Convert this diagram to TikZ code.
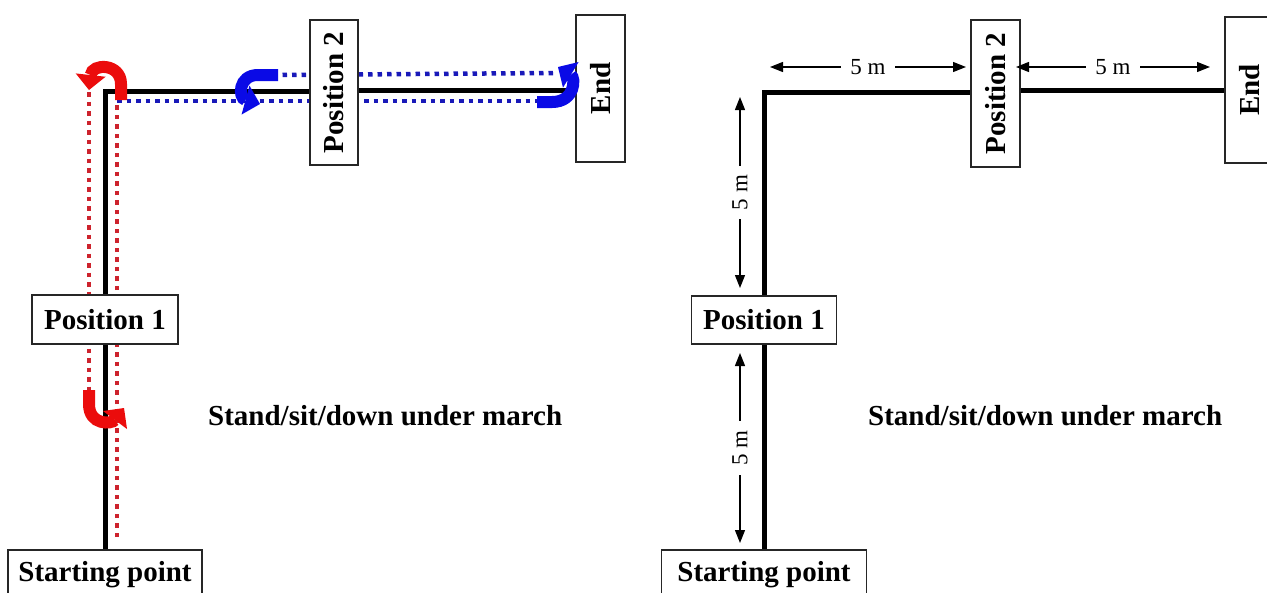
\documentclass[tikz,border=0pt]{standalone}
\usepackage{fontspec}
\setmainfont{Liberation Serif}
\usepackage{graphicx}
\usetikzlibrary{arrows.meta,backgrounds}

\definecolor{markred}{RGB}{235,12,12}
\definecolor{markblue}{RGB}{10,10,230}
\definecolor{dotred}{RGB}{205,35,45}
\definecolor{dotblue}{RGB}{25,25,185}

\tikzset{
  placebox/.style={draw=black!85, line width=1.4pt, fill=white, inner sep=0pt,
    font=\fontsize{29}{34}\selectfont\bfseries},
  track/.style={line width=5pt},
  reddots/.style={dotred, line width=4.5pt, dash pattern=on 4.5pt off 5pt},
  bluedots/.style={dotblue, line width=4.5pt, dash pattern=on 4.5pt off 5pt},
  turnred/.style={markred, line width=12pt, -{Triangle[width=30pt,length=15pt,line width=0pt]}},
  turnblue/.style={markblue, line width=12pt, -{Triangle[width=30pt,length=15pt,line width=0pt]}},
  dimarrow/.style={line width=1.3pt, {Triangle[width=10pt,length=13pt]}-{Triangle[width=10pt,length=13pt]}},
  dimlabel/.style={fill=white, inner xsep=9pt, inner ysep=1pt, font=\fontsize{23}{27}\selectfont},
  tasklabel/.style={anchor=base west, inner sep=0pt, font=\fontsize{29}{34}\selectfont\bfseries}
}

\begin{document}
\begin{tikzpicture}[x=1pt,y=-1pt]
  \useasboundingbox (0,0) rectangle (1267,592);

  % left panel: places on the course
  \node [placebox, minimum width=194pt, minimum height=49pt](startL) at (105,574.5) {Starting point};
  \node [placebox, minimum width=146pt, minimum height=49pt](posL1) at (105,319.5) {Position 1};
  \node [placebox, minimum width=48pt, minimum height=145pt](posL2) at (334,92.5) {\rotatebox{90}{Position 2}};
  \node [placebox, minimum width=49pt, minimum height=147pt](endL) at (600.5,88.5) {\rotatebox{90}{End}};
  \coordinate (cornerL) at (105,91);

  \draw [track] (startL) -- (posL1);
  \draw [track] (posL1) -- (cornerL) -- (cornerL -| posL2.west);
  \draw [track] (posL2.east |- 0,90) -- (endL.west |- 0,90);

  % walked route, kept behind the boxes
  \coordinate (redIn) at (117,537);
  \coordinate (redTurn) at (117,101);
  \coordinate (blueEnd) at (537,101);
  \coordinate (redBack) at (89,92);
  \coordinate (redStop) at (89,390);
  \coordinate (blueBack) at (553,73);
  \coordinate (blueStop) at (278,75);
  \begin{pgfonlayer}{background}
    \draw [reddots] (redIn) -- (redTurn);
    \draw [bluedots] (redTurn) -- (blueEnd);
    \draw [reddots] (redBack) -- (redStop);
    \draw [bluedots] (blueBack) -- (blueStop);
  \end{pgfonlayer}

  % turning arrows
  \draw [turnred] (redStop) -- (89,404) .. controls (89,426) and (112,424) .. (124,408);
  \draw [turnred] (121,100) -- (121,84) .. controls (121,63) and (92,63) .. (89,90);
  \draw [turnblue] (blueStop) -- (258,75) .. controls (238,75) and (238,98) .. (260,104);
  \draw [turnblue] (blueEnd |- 0,102) -- (552,102) .. controls (575,102) and (576,78) .. (558,67);

  \node [tasklabel](taskL) at (208,425) {Stand/sit/down under march};

  % right panel: same course with distances
  \node [placebox, minimum width=205pt, minimum height=49pt](startR) at (764,574.5) {Starting point};
  \node [placebox, minimum width=145pt, minimum height=48pt](posR1) at (764,320) {Position 1};
  \node [placebox, minimum width=49pt, minimum height=147pt](posR2) at (995.5,93.5) {\rotatebox{90}{Position 2}};
  \node [placebox, minimum width=50pt, minimum height=146pt](endR) at (1250,90) {\rotatebox{90}{End}};
  \coordinate (cornerR) at (764,92);

  \draw [track] (startR) -- (posR1);
  \draw [track] (posR1) -- (cornerR) -- (cornerR -| posR2.west);
  \draw [track] (posR2.east |- 0,90) -- (endR.west |- 0,90);

  % distances
  \coordinate (dimA1) at (770,67);
  \coordinate (dimA2) at (966,67);
  \coordinate (dimB1) at (1016,67);
  \coordinate (dimB2) at (1210,67);
  \coordinate (dimC1) at (740,97);
  \coordinate (dimC2) at (740,288);
  \coordinate (dimD1) at (740,353);
  \coordinate (dimD2) at (740,543);
  \draw [dimarrow] (dimA1) -- node [dimlabel]{5 m} (dimA2);
  \draw [dimarrow] (dimB1) -- node [dimlabel]{5 m} (dimB2);
  \draw [dimarrow] (dimC1) -- node [dimlabel, rotate=90]{5 m} (dimC2);
  \draw [dimarrow] (dimD1) -- node [dimlabel, rotate=90]{5 m} (dimD2);

  \node [tasklabel](taskR) at (868,425) {Stand/sit/down under march};
\end{tikzpicture}
\end{document}
